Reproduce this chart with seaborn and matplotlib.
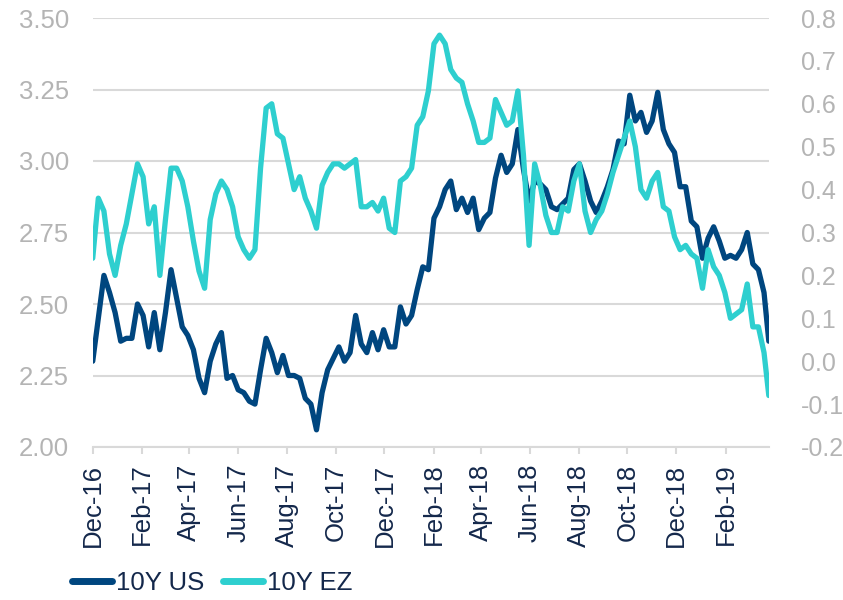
import matplotlib
matplotlib.use("Agg")
import matplotlib.pyplot as plt
import matplotlib.dates as mdates
import matplotlib.ticker as mticker
from matplotlib.lines import Line2D
import pandas as pd
import seaborn as sns

# weekly readings (Thursdays) from 1 Dec 2016, last point 27 Mar 2019
dates = list(pd.date_range("2016-12-01", periods=121, freq="7D")) + [pd.Timestamp("2019-03-27")]

us_10y = [2.30, 2.45, 2.60, 2.54, 2.47, 2.37, 2.38, 2.38, 2.50, 2.46,
          2.35, 2.47, 2.34, 2.47, 2.62, 2.52, 2.42, 2.39, 2.34, 2.24,
          2.19, 2.30, 2.36, 2.40, 2.24, 2.25, 2.20, 2.19, 2.16, 2.15,
          2.27, 2.38, 2.33, 2.26, 2.32, 2.25, 2.25, 2.24, 2.17, 2.15,
          2.06, 2.19, 2.27, 2.31, 2.35, 2.30, 2.33, 2.46, 2.36, 2.33,
          2.40, 2.34, 2.41, 2.35, 2.35, 2.49, 2.43, 2.46, 2.55, 2.63,
          2.62, 2.80, 2.84, 2.90, 2.93, 2.83, 2.87, 2.82, 2.87, 2.76,
          2.80, 2.82, 2.94, 3.02, 2.96, 2.99, 3.11, 2.97, 2.86, 2.93,
          2.92, 2.90, 2.84, 2.83, 2.85, 2.87, 2.97, 2.99, 2.93, 2.86,
          2.82, 2.86, 2.91, 2.97, 3.07, 3.06, 3.23, 3.14, 3.17, 3.10,
          3.14, 3.24, 3.11, 3.06, 3.03, 2.91, 2.91, 2.79, 2.77, 2.66,
          2.73, 2.77, 2.72, 2.66, 2.67, 2.66, 2.69, 2.75, 2.64, 2.62,
          2.54, 2.37]

ez_10y = [0.24, 0.38, 0.35, 0.25, 0.20, 0.27, 0.32, 0.39, 0.46, 0.43,
          0.32, 0.36, 0.20, 0.33, 0.45, 0.45, 0.42, 0.36, 0.28, 0.21,
          0.17, 0.33, 0.39, 0.42, 0.40, 0.36, 0.29, 0.26, 0.24, 0.26,
          0.45, 0.59, 0.60, 0.53, 0.52, 0.46, 0.40, 0.43, 0.38, 0.35,
          0.31, 0.41, 0.44, 0.46, 0.46, 0.45, 0.46, 0.47, 0.36, 0.36,
          0.37, 0.35, 0.38, 0.31, 0.30, 0.42, 0.43, 0.45, 0.55, 0.57,
          0.63, 0.74, 0.76, 0.74, 0.68, 0.66, 0.65, 0.60, 0.56, 0.51,
          0.51, 0.52, 0.61, 0.58, 0.55, 0.56, 0.63, 0.48, 0.27, 0.46,
          0.41, 0.34, 0.30, 0.30, 0.36, 0.35, 0.42, 0.46, 0.35, 0.30,
          0.33, 0.35, 0.39, 0.44, 0.48, 0.52, 0.56, 0.50, 0.40, 0.38,
          0.42, 0.44, 0.36, 0.35, 0.29, 0.26, 0.27, 0.25, 0.24, 0.17,
          0.26, 0.22, 0.20, 0.16, 0.10, 0.11, 0.12, 0.18, 0.08, 0.08,
          0.02, -0.08]

US_COLOR = "#00467f"
EZ_COLOR = "#2ecfcf"
TEXT_DARK = "#14284b"
TEXT_GREY = "#b4b4b4"
LINE_GREY = "#d9d9d9"

sns.set_theme(style="white")
plt.rcParams["font.family"] = ["Liberation Sans", "DejaVu Sans"]
plt.rcParams["axes.unicode_minus"] = False

df = pd.DataFrame({"date": dates, "us": us_10y, "ez": ez_10y})

fig = plt.figure(figsize=(8.43, 6.0), dpi=100)
ax = fig.add_axes([0.110, 0.255, 0.802, 0.715])
ax2 = ax.twinx()

sns.lineplot(data=df, x="date", y="us", ax=ax, color=US_COLOR, lw=3.8, legend=False)
sns.lineplot(data=df, x="date", y="ez", ax=ax2, color=EZ_COLOR, lw=3.8, legend=False)

ax.set_xlim(pd.Timestamp("2016-12-01"), pd.Timestamp("2019-03-27"))
ax.set_ylim(2.0, 3.5)
ax2.set_ylim(-0.2, 0.8)
ax.yaxis.set_major_locator(mticker.MultipleLocator(0.25))
ax.yaxis.set_major_formatter(mticker.FormatStrFormatter("%.2f"))
ax2.yaxis.set_major_locator(mticker.MultipleLocator(0.1))
ax2.yaxis.set_major_formatter(mticker.FormatStrFormatter("%.1f"))
ax.xaxis.set_major_locator(mdates.MonthLocator(bymonth=[2, 4, 6, 8, 10, 12]))
ax.xaxis.set_major_formatter(mdates.DateFormatter("%b-%y"))

ax.grid(axis="y", color=LINE_GREY, lw=1.5)
ax.set_axisbelow(True)
for a in (ax, ax2):
    a.set_xlabel("")
    a.set_ylabel("")
    for side in ("top", "left", "right", "bottom"):
        a.spines[side].set_visible(False)
ax.spines["bottom"].set_visible(True)
ax.spines["bottom"].set_color(LINE_GREY)
ax.spines["bottom"].set_linewidth(1.5)

ax.tick_params(axis="x", which="major", bottom=True, length=5, width=1.5, color=LINE_GREY,
               labelsize=18.5, labelcolor=TEXT_DARK, labelrotation=90, pad=7)
ax.tick_params(axis="y", left=False, labelsize=18.5, labelcolor=TEXT_GREY, pad=11)
ax2.tick_params(axis="y", right=False, labelsize=18, labelcolor=TEXT_GREY, pad=17)

handles = [Line2D([], [], color=US_COLOR, lw=5), Line2D([], [], color=EZ_COLOR, lw=5)]
fig.legend(handles, ["10Y US", "10Y EZ"], loc="lower left", bbox_to_anchor=(0.058, -0.03),
           ncol=2, frameon=False, fontsize=18.5, labelcolor=TEXT_DARK,
           handlelength=1.55, handletextpad=0.15, columnspacing=0.75)

fig.savefig("out.png", dpi=100)
